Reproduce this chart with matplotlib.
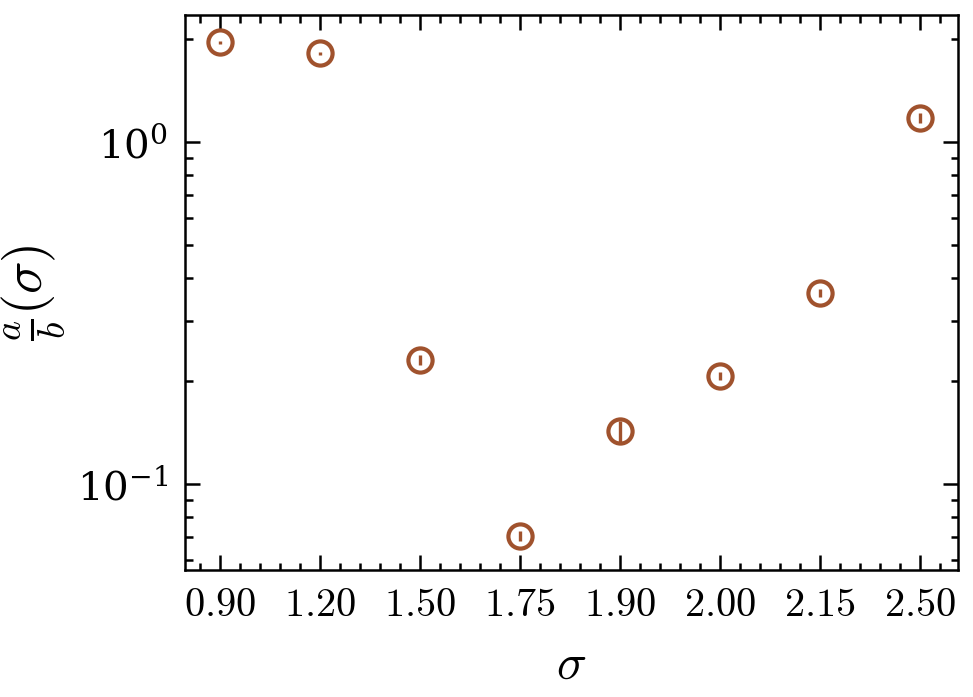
import numpy as np
import matplotlib
matplotlib.use("Agg")
import matplotlib.pyplot as plt
from matplotlib.ticker import AutoMinorLocator, LogLocator, NullFormatter

# data
sigma_labels = ["0.90", "1.20", "1.50", "1.75", "1.90", "2.00", "2.15", "2.50"]
ratio = [1.96, 1.82, 0.231, 0.0705, 0.143, 0.207, 0.362, 1.18]
ratio_err = [0.020, 0.018, 0.0079, 0.0024, 0.0099, 0.0057, 0.0099, 0.040]

plt.rcParams.update({
    "mathtext.fontset": "cm",
    "font.family": "serif",
    "font.serif": ["DejaVu Serif"],
    "font.size": 9,
    "axes.linewidth": 0.6,
    "xtick.direction": "in",
    "ytick.direction": "in",
    "xtick.top": True,
    "ytick.right": True,
    "xtick.major.size": 3.5,
    "ytick.major.size": 3.5,
    "xtick.minor.size": 1.8,
    "ytick.minor.size": 1.8,
    "xtick.major.width": 0.6,
    "ytick.major.width": 0.6,
    "xtick.minor.width": 0.6,
    "ytick.minor.width": 0.6,
    "xtick.minor.visible": True,
    "ytick.minor.visible": True,
})

fig = plt.figure(figsize=(973 / 300, 697 / 300), dpi=300)
ax = fig.add_axes([0.190, 0.182, 0.795, 0.796])

x = np.arange(len(sigma_labels))
ax.errorbar(x, ratio, yerr=ratio_err, fmt="o", color="#A0522D",
            mfc="none", mec="#A0522D", ms=5.8, mew=1.0, elinewidth=0.8,
            capsize=0)

ax.set_yscale("log")
ax.set_xlim(-0.35, 7.38)
ax.set_ylim(0.056, 2.35)
ax.set_xticks(x)
ax.set_xticklabels([f"${s}$" for s in sigma_labels])
ax.xaxis.set_minor_locator(AutoMinorLocator(5))
ax.yaxis.set_minor_locator(LogLocator(base=10, subs=np.arange(2, 10)))
ax.yaxis.set_minor_formatter(NullFormatter())
ax.tick_params(axis="both", labelsize=9.7, pad=4)

ax.set_xlabel(r"$\sigma$", fontsize=12)
ax.set_ylabel(r"$\frac{a}{b}(\sigma)$", fontsize=13)
ax.yaxis.set_label_coords(-0.153, 0.5)

fig.savefig("out.png", dpi=300)
